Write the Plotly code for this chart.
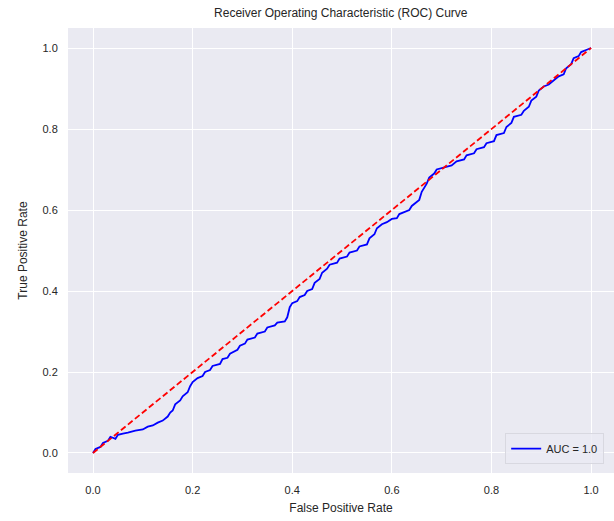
import plotly.graph_objects as go

fpr = [0, 0.005, 0.015, 0.02, 0.03, 0.035, 0.045, 0.05, 0.06, 0.07,
       0.085, 0.1, 0.11, 0.12, 0.13, 0.14, 0.15, 0.155, 0.16, 0.165,
       0.175, 0.18, 0.19, 0.195, 0.2, 0.21, 0.22, 0.225, 0.235, 0.24,
       0.255, 0.26, 0.27, 0.275, 0.29, 0.295, 0.305, 0.31, 0.325, 0.33,
       0.345, 0.35, 0.365, 0.37, 0.385, 0.39, 0.395, 0.4, 0.41, 0.415,
       0.425, 0.43, 0.44, 0.445, 0.455, 0.46, 0.47, 0.475, 0.49, 0.495,
       0.51, 0.515, 0.53, 0.535, 0.55, 0.555, 0.565, 0.57, 0.58, 0.59,
       0.6, 0.61, 0.615, 0.625, 0.635, 0.64, 0.65, 0.655, 0.66, 0.665,
       0.67, 0.675, 0.685, 0.69, 0.705, 0.72, 0.73, 0.745, 0.75, 0.765,
       0.77, 0.785, 0.79, 0.805, 0.81, 0.825, 0.83, 0.84, 0.845, 0.86,
       0.865, 0.875, 0.88, 0.89, 0.895, 0.905, 0.915, 0.925, 0.935, 0.945,
       0.95, 0.96, 0.965, 0.975, 0.98, 0.99, 1.0]
tpr = [0, 0.01, 0.015, 0.025, 0.03, 0.04, 0.035, 0.045, 0.048, 0.05,
       0.055, 0.058, 0.065, 0.068, 0.075, 0.08, 0.09, 0.1, 0.105, 0.12,
       0.13, 0.14, 0.15, 0.165, 0.175, 0.185, 0.19, 0.2, 0.205, 0.215,
       0.22, 0.232, 0.235, 0.245, 0.255, 0.265, 0.27, 0.28, 0.285, 0.295,
       0.3, 0.31, 0.315, 0.322, 0.325, 0.335, 0.36, 0.37, 0.375, 0.385,
       0.39, 0.4, 0.405, 0.42, 0.43, 0.445, 0.455, 0.465, 0.47, 0.48,
       0.485, 0.495, 0.5, 0.51, 0.515, 0.53, 0.54, 0.555, 0.565, 0.57,
       0.578, 0.58, 0.59, 0.595, 0.6, 0.61, 0.62, 0.625, 0.645, 0.655,
       0.665, 0.68, 0.69, 0.7, 0.705, 0.71, 0.72, 0.725, 0.735, 0.74,
       0.75, 0.755, 0.765, 0.77, 0.785, 0.79, 0.805, 0.815, 0.83, 0.835,
       0.845, 0.855, 0.87, 0.88, 0.895, 0.905, 0.91, 0.92, 0.93, 0.935,
       0.95, 0.96, 0.975, 0.98, 0.99, 0.995, 1.0]
diag = [0, 1]
auc_label = "AUC = 1.0"
ticks = [0.0, 0.2, 0.4, 0.6, 0.8, 1.0]
tick_text = ["0.0", "0.2", "0.4", "0.6", "0.8", "1.0"]

FONT = "Liberation Sans, Arial, sans-serif"
TXT = "#262626"

fig = go.Figure()
fig.add_trace(go.Scatter(x=fpr, y=tpr, mode="lines", name=auc_label,
                         line=dict(color="#0000FF", width=1.8)))
fig.add_trace(go.Scatter(x=diag, y=diag, mode="lines", showlegend=False,
                         line=dict(color="#FF0000", width=1.8, dash="6px,3px")))

axis_common = dict(tickvals=ticks, ticktext=tick_text, showgrid=True,
                   gridcolor="white", gridwidth=1, zeroline=False,
                   showline=False, ticks="outside", ticklen=7,
                   tickcolor="rgba(0,0,0,0)",
                   tickfont=dict(family=FONT, size=11, color=TXT))

fig.update_xaxes(range=[-0.0502, 1.046],
                 title=dict(text="False Positive Rate", standoff=8,
                            font=dict(family=FONT, size=12, color=TXT)),
                 **axis_common)
fig.update_yaxes(range=[-0.0494, 1.0494],
                 title=dict(text="True Positive Rate", standoff=12,
                            font=dict(family=FONT, size=12, color=TXT)),
                 **axis_common)

fig.update_layout(
    width=614, height=521,
    margin=dict(l=68, r=0, t=28, b=48),
    paper_bgcolor="white", plot_bgcolor="#EAEAF2",
    title=dict(text="Receiver Operating Characteristic (ROC) Curve",
               x=0.555, xanchor="center", y=0.975, yanchor="middle",
               font=dict(family=FONT, size=12, color=TXT)),
    legend=dict(x=0.982, y=0.02, xanchor="right", yanchor="bottom",
                bgcolor="rgba(234,234,242,0.8)", bordercolor="#D8D8E0",
                borderwidth=1, font=dict(family=FONT, size=11, color=TXT)),
    showlegend=True,
)

fig.write_html("out.html")
